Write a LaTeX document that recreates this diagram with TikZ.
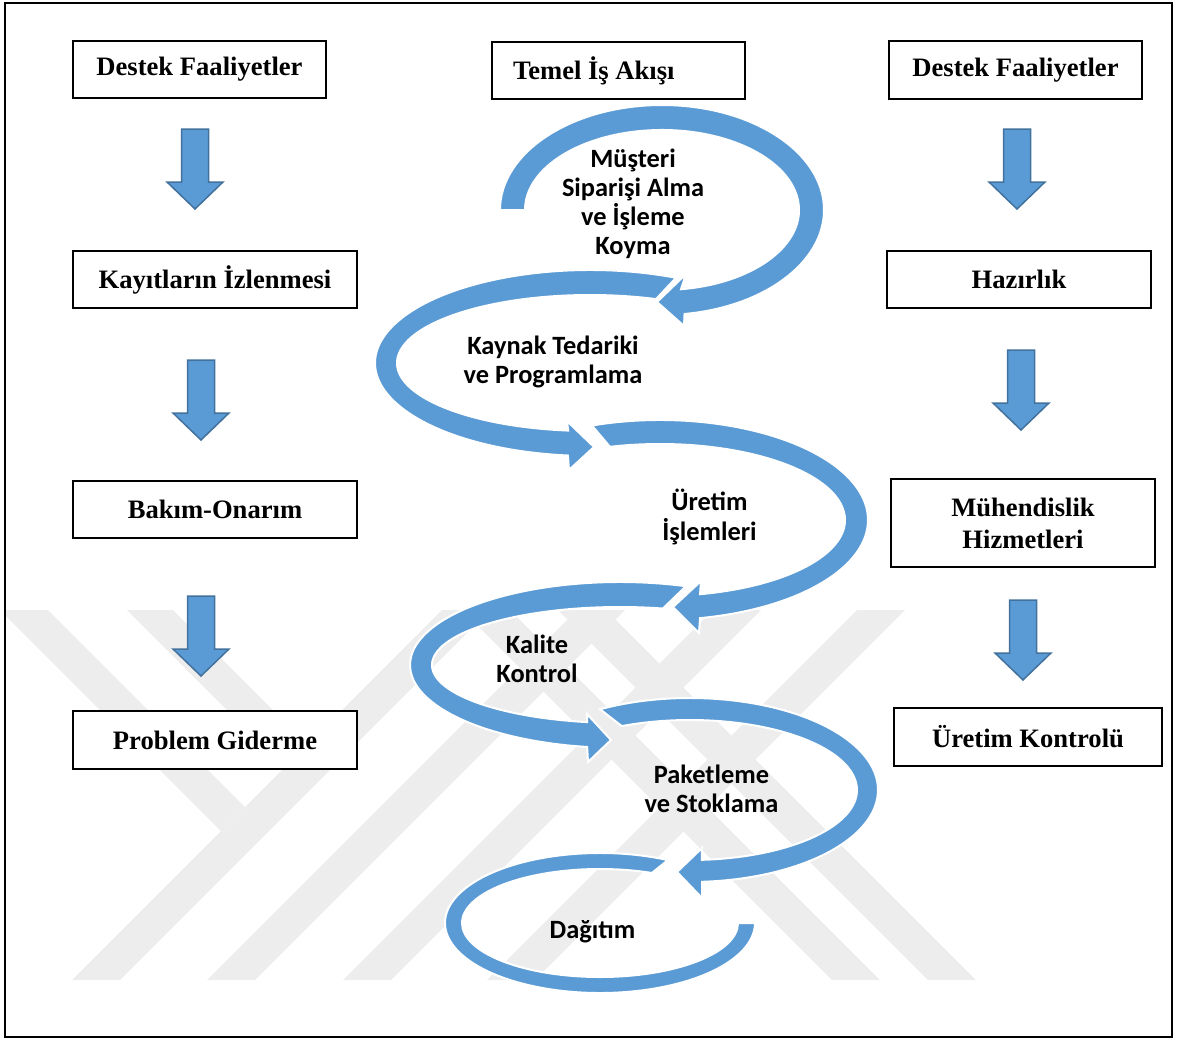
\documentclass[tikz,border=0pt]{standalone}
\usepackage{fontspec}
\setmainfont{Liberation Serif}
\newfontfamily\calibrifont{Carlito}
\usetikzlibrary{calc}
\definecolor{flowblue}{HTML}{5B9BD5}
\definecolor{flowedge}{HTML}{41719C}
\definecolor{markgray}{HTML}{EDEDED}

\begin{document}
\begin{tikzpicture}[x=0.5pt, y=-0.5pt,
  box/.style={draw=black, line width=0.75pt, fill=white, inner sep=0pt,
    font=\bfseries\fontsize{13.3}{16}\selectfont, align=center},
  boxsize/.style 2 args={minimum width=#1*0.5pt, minimum height=#2*0.5pt},
  loopband/.style={fill=flowblue, draw=white, line width=1pt, line join=miter},
  looptext/.style={font=\calibrifont\bfseries\fontsize{13.2}{14.6}\selectfont,
    align=center, inner sep=0pt},
  blockarrow/.style={fill=flowblue, draw=flowedge, line width=0.75pt},
  downarrow/.pic={\path[blockarrow] (-13.5,0) -- (13.5,0) -- (13.5,53) -- (28,53)
    -- (0,80) -- (-28,53) -- (-13.5,53) -- cycle;},
  rising/.style={insert path={(#1,980) -- ++(48,0) -- ++(370,-370) -- ++(-48,0) -- cycle}},
  falling/.style={insert path={(#1,610) -- ++(48,0) -- ++(370,370) -- ++(-48,0) -- cycle}}
]
\useasboundingbox (0,0) rectangle (1180,1039);

% ---- faint background emblem made of diagonal bars
\begin{scope}
  \clip (6,604) rectangle (1171,986);
  \fill[markgray] (0,610) -- (48,610) -- (245,807) -- (221,831) -- cycle;
  \fill[markgray] (127,610) -- (173,610) -- (307.5,744.5) -- (284.5,767.5) -- cycle;
  \fill[markgray, rising=72];
  \fill[markgray, rising=207];
  \fill[markgray, rising=343];
  \fill[markgray, rising=487];
  \fill[markgray, falling=462];
  \fill[markgray, falling=558];
\end{scope}

\draw[line width=1pt] (5,3) rectangle (1172,1037);

% ---- left column: support activities
\node[box, boxsize={253}{57}] (destekL) at (199.5,69.5) {Destek Faaliyetler};
\node[box, boxsize={284}{57}] (kayit) at (215,279.5) {Kayıtların İzlenmesi};
\node[box, boxsize={284}{57}] (bakim) at (215,509.5) {Bakım-Onarım};
\node[box, boxsize={284}{58}] (problem) at (215,740) {Problem Giderme};
\pic (la1) at (195,129) {downarrow};
\pic (la2) at (201,360) {downarrow};
\pic (la3) at (201,596) {downarrow};

% ---- right column: support activities
\node[box, boxsize={253}{58}] (destekR) at (1015.5,70) {Destek Faaliyetler};
\node[box, boxsize={264}{57}] (hazirlik) at (1019,279.5) {Hazırlık};
\node[box, boxsize={264}{88}] (muhendis) at (1023,523) {Mühendislik\\Hizmetleri};
\node[box, boxsize={268}{58}] (uretimk) at (1028,737) {Üretim Kontrolü};
\pic (ra1) at (1017,129) {downarrow};
\pic (ra2) at (1021,350) {downarrow};
\pic (ra3) at (1023,600) {downarrow};

% ---- middle column: main work flow
\node[box, boxsize={253}{57}, inner xsep=10.5pt, text width=105.5pt, align=flush left]
  (temel) at (618.5,70.5) {Temel İş Akışı};

% loop 6 (last, open end on the right)
\path[loopband] ($(600,923)+(296:155 and 70)$)
  arc[start angle=296, end angle=0, x radius=155, y radius=70]
  -- ($(600,923)+(0:138 and 54)$)
  arc[start angle=0, end angle=292.1, x radius=138, y radius=54] -- cycle;
% loop 5
\path[loopband] ($(690,790)+(241.4:188 and 92)$)
  arc[start angle=241.4, end angle=446.3, x radius=188, y radius=92]
  -- (702,898) -- (677,872) -- (702,848)
  -- ($(690,790)+(445.9:167 and 70)$)
  arc[start angle=445.9, end angle=245.9, x radius=167, y radius=70] -- cycle;
% loop 4
\path[loopband] ($(620,665)+(288.3:210 and 83)$)
  arc[start angle=288.3, end angle=99, x radius=210, y radius=83]
  -- (588,762) -- (611,740) -- (587,714)
  -- ($(620,665)+(100.1:188 and 58)$)
  arc[start angle=100.1, end angle=283.2, x radius=188, y radius=58] -- cycle;
% loop 3
\path[loopband] ($(660,520)+(250.9:208 and 100)$)
  arc[start angle=250.9, end angle=438.9, x radius=208, y radius=100]
  -- (699,633) -- (673,607) -- (701,581)
  -- ($(660,520)+(437.5:185 and 76)$)
  arc[start angle=437.5, end angle=254.3, x radius=185, y radius=76] -- cycle;
% loop 2
\path[loopband] ($(590,363)+(293.6:215 and 93)$)
  arc[start angle=293.6, end angle=95.9, x radius=215, y radius=93]
  -- (569,470) -- (594,447) -- (567,421)
  -- ($(590,363)+(96.5:193 and 68)$)
  arc[start angle=96.5, end angle=290, x radius=193, y radius=68] -- cycle;
% loop 1 (first, open end on the left)
\path[loopband] ($(662,210)+(180:162 and 105)$)
  arc[start angle=180, end angle=442, x radius=162, y radius=105]
  -- (684,326) -- (657,302) -- (686,274)
  -- ($(662,210)+(442:137 and 80)$)
  arc[start angle=442, end angle=180, x radius=137, y radius=80] -- cycle;

\node[looptext] (siparis) at (633,204) {Müşteri\\Siparişi Alma\\ve İşleme\\Koyma};
\node[looptext] (kaynak) at (553,362) {Kaynak Tedariki\\ve Programlama};
\node[looptext] (uretim) at (709.5,517) {Üretim\\İşlemleri};
\node[looptext] (kalite) at (537,659) {Kalite\\Kontrol};
\node[looptext] (paket) at (711.5,789) {Paketleme\\ve Stoklama};
\node[looptext] (dagitim) at (592.5,932) {Dağıtım};
\end{tikzpicture}
\end{document}
